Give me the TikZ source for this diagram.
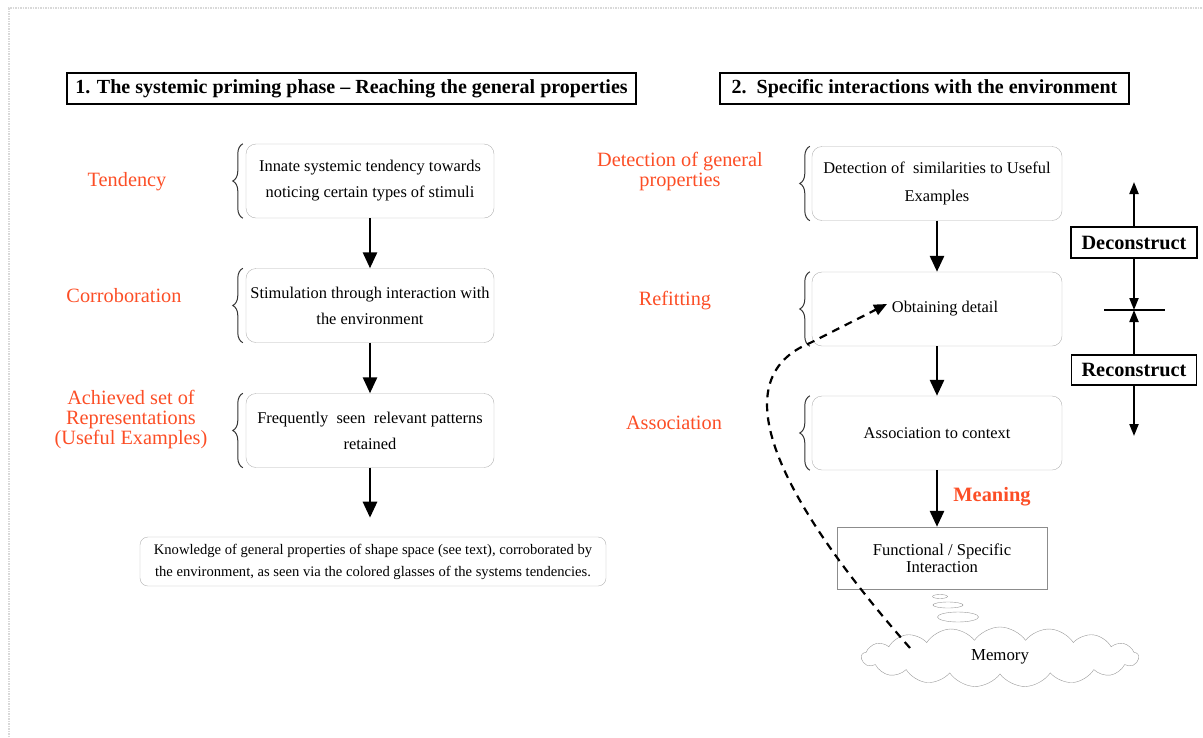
\documentclass[tikz,border=0pt]{standalone}
\usepackage{fontspec}
\setmainfont{Liberation Serif}
\usetikzlibrary{arrows.meta,positioning,decorations.pathreplacing,shapes.symbols,shapes.geometric}
\definecolor{labelred}{RGB}{252,78,38}

\tikzset{
  roundbox/.style={draw=black!30, rounded corners=10pt, minimum width=248pt, minimum height=74pt,
    align=center, font=\fontsize{16.4}{26}\selectfont},
  titlebox/.style={draw, line width=1.2pt, minimum height=31pt, inner sep=3pt,
    font=\bfseries\fontsize{20}{22}\selectfont},
  redlabel/.style={text=labelred, align=center, font=\fontsize{20.3}{20}\selectfont},
  flow/.style={-{Triangle[length=16pt,width=14pt]}, line width=2.8pt},
  smallflow/.style={-{Triangle[length=12pt,width=9pt]}, line width=2pt},
  bracket/.style={decorate, decoration={brace, amplitude=10pt}, black!80, line width=1pt},
}

\begin{document}
\begin{tikzpicture}[x=1pt, y=-1pt]
    \useasboundingbox (0,0) rectangle (1203,737);
    % faint page frame
    \draw[black!15, densely dotted, line width=1.5pt] (9,737) -- (9,8) -- (1203,8);

    % phase 1
    \node[titlebox, minimum width=569pt] (title1) at (351.5,88.5)
        {1. The systemic priming phase -- Reaching the general properties};
    \node[roundbox] (tend) at (370,181)
        {Innate systemic tendency towards\\noticing certain types of stimuli};
    \node[roundbox] (stim) at (370,305.5)
        {Stimulation through interaction with\\the environment};
    \node[roundbox] (freq) at (370,430.5)
        {Frequently\ \ seen\ \ relevant patterns\\retained};
    \node[draw=black!30, rounded corners=8pt, minimum width=466pt, minimum height=49pt,
        align=center, font=\fontsize{14.6}{22}\selectfont] (know) at (373,561.5)
        {Knowledge of general properties of shape space (see text), corroborated by\\
         the environment, as seen via the colored glasses of the systems tendencies.};

    \node[redlabel] (ltend) at (127,182) {Tendency};
    \node[redlabel] (lcorr) at (124,296) {Corroboration};
    \node[redlabel] (lach) at (131,420) {Achieved set of\\Representations\\(Useful Examples)};

    \foreach \b in {tend,stim,freq}
        \draw[bracket] ([xshift=-3pt]\b.south west) -- ([xshift=-3pt]\b.north west);

    \draw[flow] (tend) -- (stim);
    \draw[flow] (stim) -- (freq);
    \draw[flow] (freq.south) -- ++(0,50);

    % phase 2
    \node[titlebox, minimum width=409pt] (title2) at (924.5,88.5)
        {2.\ \ Specific interactions with the environment};
    \node[roundbox, minimum width=250pt, font=\fontsize{16.4}{28}\selectfont] (detect) at (937,183.5)
        {Detection of\ \ similarities to Useful\\Examples};
    \node[roundbox, minimum width=250pt] (refit) at (937,309) {\hspace*{16pt}Obtaining detail};
    \node[roundbox, minimum width=250pt] (assoc) at (937,433) {Association to context};
    \node[draw=black!45, minimum width=210pt, minimum height=62pt, align=center,
        font=\fontsize{16.6}{17}\selectfont] (func) at (942,558) {Functional / Specific\\Interaction};

    \node[redlabel] (ldet) at (680,172) {Detection of general\\properties};
    \node[redlabel] (lref) at (675,301) {Refitting};
    \node[redlabel] (lass) at (674,423) {Association};
    \node[redlabel, font=\bfseries\fontsize{20.4}{20}\selectfont] (mean) at (992,497) {Meaning};

    \foreach \b in {detect,refit,assoc}
        \draw[bracket] ([xshift=-2pt]\b.south west) -- ([xshift=-2pt]\b.north west);

    \draw[flow] (detect) -- (refit);
    \draw[flow] (refit) -- (assoc);
    \draw[flow] (assoc.south) -- (assoc.south |- func.north);

    % memory
    \node[cloud, cloud puffs=17, cloud puff arc=110, aspect=4.6, draw=black!40,
        minimum width=277pt, minimum height=60pt, font=\fontsize{16.8}{18}\selectfont] (mem) at (1000,657) {Memory};
    \node[ellipse, draw=black!40, minimum width=15pt, minimum height=4pt, inner sep=0pt] (b1) at (940,596.5) {};
    \node[ellipse, draw=black!40, minimum width=30pt, minimum height=6pt, inner sep=0pt] (b2) at (948,605) {};
    \node[ellipse, draw=black!40, minimum width=41pt, minimum height=10pt, inner sep=0pt] (b3) at (958,617) {};

    \coordinate (memstart) at (910,648);
    \coordinate (bend) at (810,343);
    \coordinate (detail) at (887,304);
    \draw[line width=2.2pt, dash pattern=on 8pt off 6pt, -{Triangle[length=13pt,width=11pt]}]
        (memstart) .. controls (780,500) and (720,380) .. (bend) -- (detail);

    % deconstruct / reconstruct
    \node[draw, line width=1.2pt, minimum width=126pt, minimum height=31pt,
        font=\bfseries\fontsize{20.3}{22}\selectfont] (decon) at (1134,242.5) {Deconstruct};
    \node[draw, line width=1.2pt, minimum width=125pt, minimum height=30pt,
        font=\bfseries\fontsize{20.3}{22}\selectfont] (recon) at (1134,370) {Reconstruct};
    \coordinate (cross) at (1134,310);
    \coordinate (up) at (1134,182);
    \coordinate (down) at (1134,436);
    \draw[line width=1.4pt] ([xshift=-30pt]cross) -- ([xshift=31pt]cross);
    \draw[smallflow] (decon.north) -- (up);
    \draw[smallflow] (decon.south) -- (cross);
    \draw[smallflow] (recon.north) -- (cross);
    \draw[smallflow] (recon.south) -- (down);
\end{tikzpicture}
\end{document}
